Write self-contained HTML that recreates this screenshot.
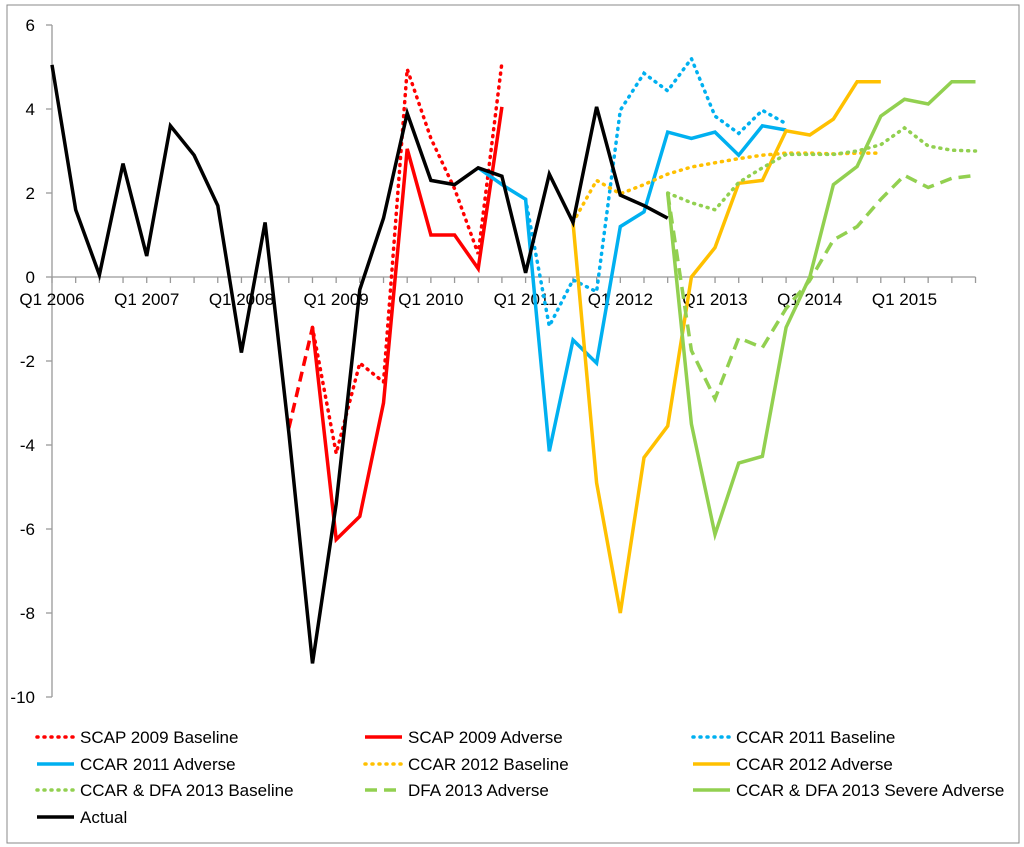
<!DOCTYPE html>
<html><head><meta charset="utf-8">
<style>
body{margin:0;background:#fff;}
svg{display:block;font-family:"Liberation Sans",Arial,sans-serif;}
</style></head>
<body>
<svg id="chart" width="1024" height="847" viewBox="0 0 1024 847">
<rect x="7" y="5" width="1012" height="838" fill="#fff" stroke="#888" stroke-width="1"/>
<g id="axes"></g>
<g id="series"></g>
<g id="legend"></g>
</svg>
<script>
const yTicks = [6,4,2,0,-2,-4,-6,-8,-10];
const xLabels = ["Q1 2006","Q1 2007","Q1 2008","Q1 2009","Q1 2010","Q1 2011","Q1 2012","Q1 2013","Q1 2014","Q1 2015"];
const nQuarters = 40;
const actual = [5.05,1.6,0.05,2.7,0.5,3.6,2.9,1.7,-1.8,1.3,-3.7,-9.2,-5.4,-0.3,1.4,3.9,2.3,2.2,2.6,2.4,0.1,2.45,1.3,4.05,1.95,1.7,1.4];
const scapLinkStart = 10;
const scapLink = [-3.6,-1.2];
const scapBaseStart = 11;
const scapBase = [-1.2,-4.2,-2.05,-2.5,4.95,3.3,2.1,0.55,5.1];
const scapAdvStart = 11;
const scapAdv = [-1.2,-6.25,-5.7,-3.0,3.05,1.0,1.0,0.2,4.05];
const ccar11BaseStart = 20;
const ccar11Base = [1.85,-1.17,-0.07,-0.35,3.97,4.85,4.43,5.2,3.83,3.42,3.97,3.65];
const ccar11AdvStart = 18;
const ccar11Adv = [2.6,2.2,1.85,-4.15,-1.5,-2.05,1.2,1.55,3.45,3.3,3.45,2.9,3.6,3.5];
const ccar12BaseStart = 22;
const ccar12Base = [1.3,2.3,1.98,2.2,2.45,2.62,2.72,2.82,2.9,2.95,2.95,2.93,2.95,2.95];
const ccar12AdvStart = 22;
const ccar12Adv = [1.3,-4.9,-8.0,-4.3,-3.55,0,0.7,2.23,2.3,3.48,3.38,3.76,4.65,4.65];
const dfa13BaseStart = 26;
const dfa13Base = [2.0,1.77,1.6,2.25,2.6,2.92,2.92,2.92,3.0,3.15,3.55,3.12,3.02,3.0];
const dfa13AdvStart = 26;
const dfa13Adv = [2.0,-1.75,-2.9,-1.45,-1.68,-0.75,-0.08,0.88,1.2,1.85,2.42,2.13,2.35,2.42];
const dfa13SevStart = 26;
const dfa13Sev = [2.0,-3.5,-6.13,-4.43,-4.27,-1.2,0,2.2,2.63,3.83,4.23,4.12,4.65,4.65];

const NS="http://www.w3.org/2000/svg";
const X0=52, DX=23.68, Y0=277, PY=42;
function xs(i){return X0+i*DX;}
function ys(v){return Y0-v*PY;}
function mk(tag,attrs,parent){const e=document.createElementNS(NS,tag);for(const k in attrs)e.setAttribute(k,attrs[k]);parent.appendChild(e);return e;}

const axes=document.getElementById('axes');
// y axis
let yl=mk('line',{x1:X0,y1:ys(6),x2:X0,y2:ys(-10),stroke:'#999','stroke-width':1.3},axes);


yTicks.forEach(t=>{
  mk('line',{x1:X0-6,y1:ys(t),x2:X0,y2:ys(t),stroke:'#999','stroke-width':1.3},axes);
  const tx=mk('text',{x:35,y:ys(t)+6,'text-anchor':'end','font-size':17,fill:'#000'},axes);
  tx.textContent=t;
  
  
});
let xl=mk('line',{x1:X0,y1:Y0,x2:xs(nQuarters-1),y2:Y0,stroke:'#999','stroke-width':1.3},axes);


for(let i=0;i<nQuarters;i++){mk('line',{x1:xs(i),y1:Y0,x2:xs(i),y2:Y0+6,stroke:'#999','stroke-width':1.3},axes);}
xLabels.forEach((l,k)=>{
  const tx=mk('text',{x:xs(k*4),y:Y0+28,'text-anchor':'middle','font-size':17,fill:'#000'},axes);
  tx.textContent=l;
  
  
});

const series=document.getElementById('series');
function line(start,vals,color,dash,name,w){
  const pts=vals.map((v,k)=>xs(start+k).toFixed(1)+','+ys(v).toFixed(1)).join(' ');
  const p=mk('polyline',{points:pts,fill:'none',stroke:color,'stroke-width':w||3.5,'stroke-linejoin':'miter','stroke-dasharray':dash||'none','stroke-linecap':dash==='1 6'?'round':'butt'},series);
  
  
}
const RED='#ff0000',BLUE='#00b0f0',OR='#ffc000',GR='#92d050';
line(scapLinkStart,scapLink,RED,'10 6','scap-2009-link-line');
line(scapAdvStart,scapAdv,RED,null,'scap-2009-adverse-line');
line(scapBaseStart,scapBase,RED,'1 6','scap-2009-baseline-line');
line(ccar11AdvStart,ccar11Adv,BLUE,null,'ccar-2011-adverse-line');
line(ccar11BaseStart,ccar11Base,BLUE,'1 6','ccar-2011-baseline-line');
line(ccar12AdvStart,ccar12Adv,OR,null,'ccar-2012-adverse-line');
line(ccar12BaseStart,ccar12Base,OR,'1 6','ccar-2012-baseline-line');
line(dfa13SevStart,dfa13Sev,GR,null,'ccar-dfa-2013-severe-adverse-line');
line(dfa13AdvStart,dfa13Adv,GR,'12 7','dfa-2013-adverse-line');
line(dfa13BaseStart,dfa13Base,GR,'1 6','ccar-dfa-2013-baseline-line');
line(0,actual,'#000',null,'actual-line');

const legendItems=[
 ["SCAP 2009 Baseline",RED,'1 6',37,737],["SCAP 2009 Adverse",RED,null,365,737],["CCAR 2011 Baseline",BLUE,'1 6',693,737],
 ["CCAR 2011 Adverse",BLUE,null,37,764],["CCAR 2012 Baseline",OR,'1 6',365,764],["CCAR 2012 Adverse",OR,null,693,764],
 ["CCAR & DFA 2013 Baseline",GR,'1 6',37,790],["DFA 2013 Adverse",GR,'12 7',365,790],["CCAR & DFA 2013 Severe Adverse",GR,null,693,790],
 ["Actual",'#000',null,37,817]];
const lg=document.getElementById('legend');
legendItems.forEach(it=>{
  const g=mk('g',{},lg);
  
  
  mk('line',{x1:it[3],y1:it[4],x2:it[3]+37,y2:it[4],stroke:it[1],'stroke-width':3.5,'stroke-dasharray':it[2]||'none','stroke-linecap':it[2]==='1 6'?'round':'butt'},g);
  const t=mk('text',{x:it[3]+43,y:it[4]+6,'font-size':17,fill:'#000'},g);
  t.textContent=it[0];
});
</script>
</body></html>
